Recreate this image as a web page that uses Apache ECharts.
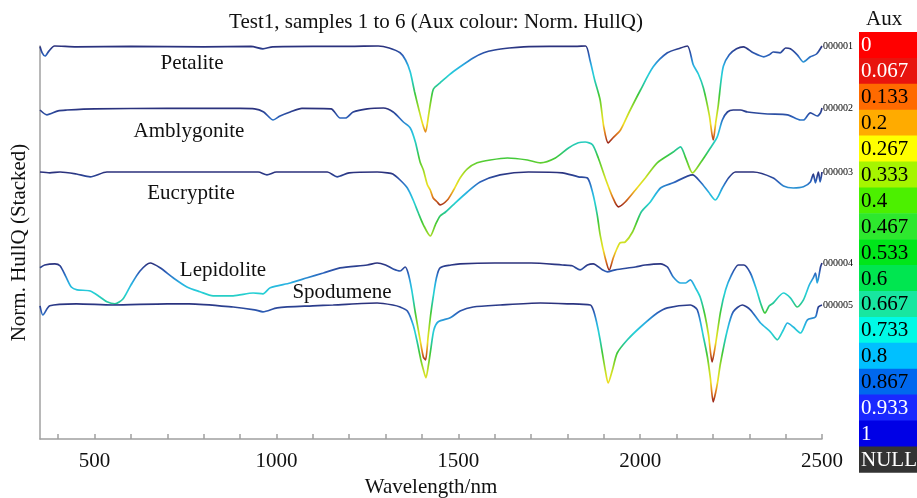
<!DOCTYPE html>
<html>
<head>
<meta charset="utf-8">
<title>Test1, samples 1 to 6</title>
<script src="https://cdn.jsdelivr.net/npm/echarts@6/dist/echarts.min.js"></script>
<style>
  html, body { margin: 0; padding: 0; background: #ffffff; }
  #chart { width: 917px; height: 498px; }
</style>
</head>
<body>
<div id="chart"></div>
<script>
// Hull-quotient spectra, [wavelength nm, hull quotient]
const petalite = [[350,.999],[356,.983],[364,.975],[375,.988],[390,1],[450,.998],[600,.999],[800,.998],[930,.999],[963,.993],[990,.998],[1100,.999],[1200,.999],[1280,1],[1310,.995],[1340,.983],[1355,.965],[1368,.935],[1380,.885],[1392,.84],[1402,.805],[1410,.785],[1418,.825],[1425,.865],[1432,.893],[1450,.908],[1475,.928],[1505,.948],[1541,.97],[1570,.983],[1600,.99],[1640,.995],[1680,.998],[1750,.999],[1820,.999],[1850,1],[1862,.965],[1875,.915],[1890,.865],[1900,.798],[1912,.758],[1925,.77],[1946,.79],[1970,.835],[2001,.89],[2036,.948],[2075,.983],[2111,.995],[2130,1],[2146,.953],[2160,.93],[2174,.895],[2190,.828],[2201,.765],[2208,.81],[2215,.853],[2222,.91],[2229,.95],[2245,.978],[2265,.993],[2284,.998],[2311,.983],[2340,.973],[2355,.978],[2366,.985],[2385,.983],[2400,.995],[2413,.993],[2432,.978],[2449,.96],[2468,.973],[2485,.98],[2500,1]];

const amblygonite = [[350,.995],[369,.983],[400,.993],[424,.995],[500,.998],[700,.999],[900,.999],[940,.998],[965,.99],[991,.97],[1010,.98],[1038,.99],[1070,.999],[1150,.998],[1175,.975],[1190,.975],[1211,.99],[1250,.998],[1294,1],[1321,.99],[1349,.965],[1368,.95],[1382,.915],[1395,.865],[1404,.845],[1415,.808],[1423,.795],[1431,.775],[1442,.765],[1450,.758],[1470,.77],[1486,.793],[1505,.825],[1525,.848],[1552,.863],[1588,.87],[1635,.875],[1690,.87],[1726,.863],[1767,.875],[1803,.9],[1830,.913],[1849,.915],[1869,.908],[1885,.875],[1904,.825],[1924,.778],[1940,.753],[1959,.765],[1987,.795],[2014,.825],[2047,.863],[2091,.89],[2111,.903],[2124,.878],[2138,.845],[2144,.838],[2166,.863],[2193,.9],[2212,.928],[2226,.97],[2240,.99],[2256,.995],[2276,.995],[2295,.99],[2350,.985],[2405,.983],[2441,.97],[2449,.97],[2468,.988],[2487,.98],[2496,.988],[2500,1]];

const eucryptite = [[350,1],[377,.998],[405,1],[450,.995],[488,.988],[534,1],[700,1],[950,1],[974,.993],[1000,1],[1140,1],[1167,.988],[1200,.998],[1277,1],[1305,.998],[1320,.995],[1340,.98],[1360,.96],[1376,.93],[1390,.898],[1404,.868],[1423,.84],[1437,.868],[1450,.89],[1465,.9],[1486,.918],[1525,.95],[1560,.975],[1615,.993],[1693,1],[1786,.998],[1830,.988],[1855,.985],[1869,.95],[1882,.893],[1890,.843],[1904,.785],[1915,.755],[1926,.785],[1937,.81],[1945,.823],[1959,.825],[1979,.85],[2003,.9],[2028,.925],[2056,.96],[2091,.973],[2144,.993],[2166,.975],[2188,.95],[2207,.93],[2226,.96],[2243,.985],[2262,1],[2311,1],[2366,.985],[2394,.965],[2421,.96],[2449,.963],[2468,.975],[2476,.995],[2482,.973],[2490,1],[2495,.975],[2500,1]];

const lepidolite = [[350,.988],[363,.995],[391,.998],[405,.993],[420,.968],[436,.94],[452,.933],[488,.93],[515,.915],[534,.903],[556,.898],[578,.91],[600,.945],[625,.98],[653,1],[680,.988],[716,.963],[754,.94],[790,.928],[826,.918],[881,.918],[936,.925],[963,.923],[983,.938],[1038,.95],[1085,.963],[1129,.975],[1175,.988],[1250,.995],[1277,1],[1300,.995],[1321,.985],[1340,.98],[1354,.99],[1362,.975],[1372,.933],[1382,.875],[1395,.808],[1404,.765],[1410,.758],[1417,.815],[1424,.87],[1431,.915],[1440,.963],[1450,.988],[1480,.995],[1505,.998],[1600,1],[1700,1],[1786,.995],[1813,.993],[1835,.983],[1855,.995],[1871,.998],[1896,.983],[1910,.978],[1932,.983],[1987,.99],[2014,.995],[2056,.998],[2075,.99],[2091,.965],[2111,.95],[2125,.95],[2138,.958],[2152,.938],[2165,.915],[2178,.87],[2188,.82],[2198,.753],[2207,.795],[2221,.878],[2235,.933],[2250,.968],[2270,.995],[2285,.995],[2303,.975],[2320,.933],[2331,.9],[2343,.875],[2355,.893],[2366,.9],[2394,.925],[2413,.913],[2432,.89],[2449,.908],[2465,.945],[2476,.963],[2482,.975],[2487,.95],[2496,.99],[2500,1]];

const spodumene = [[350,.993],[358,.97],[377,.993],[450,.998],[550,.995],[700,.998],[760,.998],[881,.99],[940,.983],[963,.978],[1002,.988],[1100,.993],[1156,.995],[1277,1],[1320,.995],[1340,.99],[1360,.98],[1376,.945],[1387,.903],[1397,.858],[1404,.833],[1411,.813],[1418,.845],[1425,.888],[1433,.933],[1445,.953],[1478,.963],[1505,.98],[1541,.99],[1615,.995],[1726,1],[1800,.998],[1863,.995],[1871,.983],[1880,.953],[1890,.908],[1904,.833],[1912,.8],[1924,.833],[1937,.875],[1965,.908],[2001,.94],[2047,.975],[2075,.988],[2138,.995],[2157,.983],[2174,.915],[2185,.865],[2193,.813],[2201,.753],[2208,.778],[2214,.808],[2221,.85],[2240,.933],[2256,.978],[2281,.995],[2303,.983],[2331,.95],[2358,.928],[2377,.908],[2394,.933],[2405,.95],[2421,.94],[2441,.925],[2460,.958],[2482,.965],[2490,.99],[2500,.995]];

const sampleNames = ['Petalite', 'Amblygonite', 'Eucryptite', 'Lepidolite', 'Spodumene'];
const sampleIds = ['000001', '000002', '000003', '000004', '000005'];
// vertical shift applied to each spectrum in the stacked view
const stackShift = [-0.0175, -0.1725, -0.3325, -0.56, -0.66];

const wavelengthTicks = [400, 500, 600, 700, 800, 900, 1000, 1100, 1200, 1300, 1400, 1500, 1600, 1700, 1800, 1900, 2000, 2100, 2200, 2300, 2400, 2500];
const wavelengthLabels = [500, 1000, 1500, 2000, 2500];

const auxLabels = ['0', '0.067', '0.133', '0.2', '0.267', '0.333', '0.4', '0.467', '0.533', '0.6', '0.667', '0.733', '0.8', '0.867', '0.933', '1', 'NULL'];
const auxColors = ['#ff0000', '#e8140e', '#ff6a00', '#ffab00', '#ffff00', '#a6f500', '#4cf000', '#2ee82e', '#00e61a', '#00e650', '#18e6a0', '#00fae6', '#00c0ff', '#0068ee', '#1a28ff', '#0000e6', '#333333'];
const auxTextColors = ['#fff', '#fff', '#000', '#000', '#000', '#000', '#000', '#000', '#000', '#000', '#000', '#000', '#000', '#000', '#fff', '#fff', '#fff'];

// line colour ramp, normalised hull quotient 0 (deepest) -> 1 (continuum)
const lineRamp = ['#9a2418', '#e07a1c', '#eee022', '#c8e024', '#7fd42a', '#3cc83a', '#26c8a0', '#26d0d8', '#28aee2', '#2c62bc', '#2b2f7a'];

const spectra = [petalite, amblygonite, eucryptite, lepidolite, spodumene];
const serif = 'Liberation Serif, Times New Roman, serif';

const chart = echarts.init(document.getElementById('chart'), null, { renderer: 'canvas' });

const series = [];
const visualMaps = [];
spectra.forEach((spec, i) => {
  const pts = spec.map(([w, q]) => [w, q + stackShift[i]]);
  const ys = pts.map(p => p[1]);
  series.push({
    name: sampleNames[i],
    type: 'line',
    data: pts,
    showSymbol: false,
    symbol: 'none',
    clip: false,
    smooth: 0.25,
    lineStyle: { width: 1.7 },
    endLabel: {
      show: true,
      formatter: sampleIds[i],
      color: '#000',
      fontSize: 10,
      fontFamily: serif,
      distance: 1
    },
    emphasis: { disabled: true }
  });
  visualMaps.push({
    type: 'continuous',
    show: false,
    seriesIndex: i,
    dimension: 1,
    min: Math.min(...ys),
    max: Math.max(...ys),
    inRange: { color: lineRamp }
  });
});

// colour key on the right
const keyTop = 32, keyCell = 25.9, keyLeft = 859;
const keyGraphics = [{
  type: 'text',
  left: 866, top: 9,
  style: { text: 'Aux', fontSize: 21, fontFamily: serif, fill: '#111' }
}];
auxLabels.forEach((lab, i) => {
  keyGraphics.push({
    type: 'rect',
    shape: { x: keyLeft, y: keyTop + i * keyCell, width: 60, height: keyCell + 0.5 },
    style: { fill: auxColors[i] }
  });
  keyGraphics.push({
    type: 'text',
    x: keyLeft + 2, y: keyTop + i * keyCell + keyCell / 2 + 1,
    style: { text: lab, fontSize: 21, fontFamily: serif, fill: auxTextColors[i], verticalAlign: 'middle' }
  });
});

// sample names beside their spectra
const nameSpots = [[192, 63], [189, 131], [191, 193], [223, 270], [342, 292]];
const nameGraphics = sampleNames.map((n, i) => ({
  type: 'text',
  x: nameSpots[i][0], y: nameSpots[i][1],
  style: { text: n, fontSize: 21, fontFamily: serif, fill: '#111', align: 'center', verticalAlign: 'middle' }
}));

chart.setOption({
  animation: false,
  backgroundColor: '#ffffff',
  title: {
    text: 'Test1, samples 1 to 6 (Aux colour: Norm. HullQ)',
    left: 431,
    textAlign: 'center',
    top: 7,
    textStyle: { fontSize: 21, fontWeight: 'normal', fontFamily: serif, color: '#111' }
  },
  grid: { left: 40, right: 95, top: 46, bottom: 59, outerBoundsMode: 'none', containLabel: false },
  xAxis: {
    type: 'value',
    min: 350,
    max: 2500,
    name: 'Wavelength/nm',
    nameLocation: 'middle',
    nameGap: 37,
    nameTextStyle: { fontSize: 21, fontFamily: serif, color: '#111' },
    axisLine: { show: true, lineStyle: { color: '#a0a0a0', width: 1.5 } },
    axisTick: { show: true, inside: true, length: 5, customValues: wavelengthTicks, lineStyle: { color: '#a0a0a0', width: 1.5 } },
    axisLabel: { customValues: wavelengthLabels, formatter: v => String(v), fontSize: 21, fontFamily: serif, color: '#111', margin: 12 },
    splitLine: { show: false }
  },
  yAxis: {
    type: 'value',
    min: 0,
    max: 0.9825,
    name: 'Norm. HullQ (Stacked)',
    nameLocation: 'middle',
    nameGap: 10,
    nameTextStyle: { fontSize: 21, fontFamily: serif, color: '#111' },
    axisLine: { show: true, lineStyle: { color: '#a0a0a0', width: 1.5 } },
    axisTick: { show: false },
    axisLabel: { show: false },
    splitLine: { show: false }
  },
  visualMap: visualMaps,
  graphic: keyGraphics.concat(nameGraphics),
  series: series
});
</script>
</body>
</html>
